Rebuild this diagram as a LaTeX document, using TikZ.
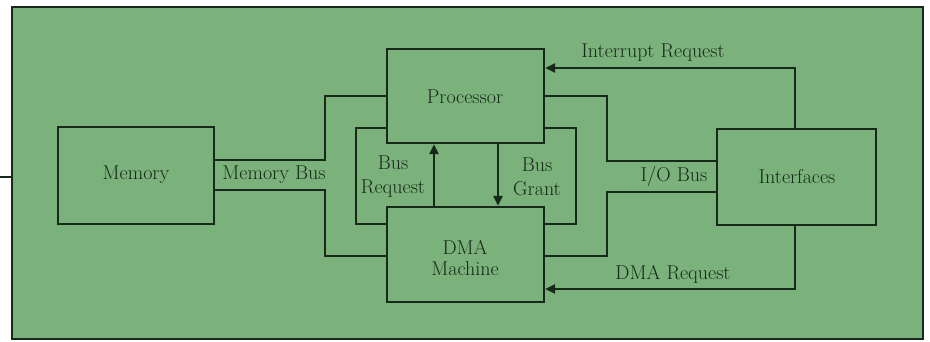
\documentclass[tikz,border=0pt]{standalone}
\usetikzlibrary{arrows.meta}
\definecolor{panel}{HTML}{7BB17B}
\definecolor{ink}{HTML}{16291A}
\begin{document}
\begin{tikzpicture}[x=1pt,y=-1pt,
  line width=2pt,
  wire/.style={draw=ink,line width=2.2pt},
  tip/.style={wire,-{Triangle[length=10pt,width=9pt]}},
  unit/.style={draw=ink,line width=2.2pt,inner sep=0pt},
  lbl/.style={text=ink,font=\fontsize{20}{23}\selectfont,align=center,inner sep=0pt}]
  % page and panel
  \useasboundingbox (0,0) rectangle (930,341);
  \fill[white] (0,0) rectangle (930,341);
  \filldraw[fill=panel,draw=ink,line width=2pt] (12,7) rectangle (923,339);
  \coordinate (stubL) at (0,177);
  \coordinate (stubR) at (12,177);
  \draw[wire] (stubL) -- (stubR);

  % blocks
  \node[unit,minimum width=156pt,minimum height=97pt] (mem) at (136,175.5) {};
  \node[unit,minimum width=157pt,minimum height=94pt] (proc) at (465.5,96) {};
  \node[unit,minimum width=157pt,minimum height=95pt] (dma) at (465.5,254.5) {};
  \node[unit,minimum width=159pt,minimum height=96pt] (intf) at (796.5,177) {};

  \node[lbl] (memT) at (136,175) {Memory};
  \node[lbl] (procT) at (465,97) {Processor};
  \node[lbl,font=\fontsize{20}{21}\selectfont] (dmaT) at (465,258) {DMA\\Machine};
  \node[lbl] (intfT) at (797,177) {Interfaces};

  % memory bus
  \coordinate (mb1) at (325,160);
  \coordinate (mb2) at (325,96);
  \coordinate (mb3) at (325,190);
  \coordinate (mb4) at (325,256);
  \draw[wire] (mem.east |- mb1) -- (mb1) -- (mb2) -- (proc.west |- mb2);
  \draw[wire] (mem.east |- mb3) -- (mb3) -- (mb4) -- (dma.west |- mb4);
  \node[lbl] (mbT) at (274,175) {Memory Bus};

  % bus request loop
  \coordinate (br1) at (356,128);
  \coordinate (br2) at (356,224);
  \draw[wire] (proc.west |- br1) -- (br1) -- (br2) -- (dma.west |- br2);
  \coordinate (brx) at (434,0);
  \draw[tip] (dma.north -| brx) -- (proc.south -| brx);
  \node[lbl,font=\fontsize{20}{24}\selectfont] (brT) at (393,177) {Bus\\Request};

  % bus grant loop
  \coordinate (bg1) at (576,128);
  \coordinate (bg2) at (576,224);
  \draw[wire] (proc.east |- bg1) -- (bg1) -- (bg2) -- (dma.east |- bg2);
  \coordinate (bgx) at (498,0);
  \draw[tip] (proc.south -| bgx) -- (dma.north -| bgx);
  \node[lbl,font=\fontsize{20}{24}\selectfont] (bgT) at (537,177) {Bus\\Grant};

  % I/O bus
  \coordinate (io1) at (607,96);
  \coordinate (io2) at (607,161);
  \coordinate (io3) at (607,192);
  \coordinate (io4) at (607,256);
  \draw[wire] (proc.east |- io1) -- (io1) -- (io2) -- (intf.west |- io2);
  \draw[wire] (intf.west |- io3) -- (io3) -- (io4) -- (dma.east |- io4);
  \node[lbl] (ioT) at (674,176) {I/O Bus};

  % request lines from the interfaces
  \coordinate (ir) at (795,68);
  \draw[tip] (intf.north -| ir) -- (ir) -- (proc.east |- ir);
  \node[lbl] (irT) at (653,53) {Interrupt Request};
  \coordinate (dr) at (795,289);
  \draw[tip] (intf.south -| dr) -- (dr) -- (dma.east |- dr);
  \node[lbl] (drT) at (673,274) {DMA Request};
\end{tikzpicture}
\end{document}
